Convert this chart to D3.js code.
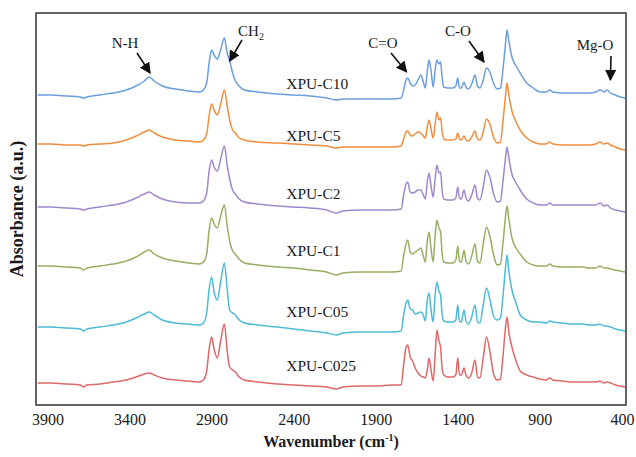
<!DOCTYPE html>
<html>
<head>
<meta charset="utf-8">
<script src="https://cdn.jsdelivr.net/npm/d3@7/dist/d3.min.js"></script>
<style>
  html, body { margin: 0; padding: 0; background: #fff; }
  svg { display: block; }
  text { font-family: "Liberation Serif", "Times New Roman", serif; fill: #1a1a1a; }
</style>
</head>
<body>
<svg id="chart" width="636" height="457"></svg>
<script>
// Wavenumber grid (cm-1) shared by all spectra
const wavenumbers = [3960, 3880, 3780, 3700, 3680, 3660, 3580, 3500, 3420, 3360, 3310, 3280, 3250, 3200, 3120, 3040,
  2975, 2950, 2930, 2915, 2900, 2885, 2865, 2845, 2822, 2805, 2790, 2772, 2755, 2738, 2700, 2620, 2500, 2400, 2300,
  2200, 2140, 2100, 2000, 1900, 1800, 1745, 1730, 1715, 1705, 1690, 1675, 1660, 1642, 1625, 1610, 1598, 1585, 1575,
  1562, 1550, 1538, 1527, 1515, 1505, 1495, 1485, 1460, 1430, 1412, 1400, 1390, 1378, 1362, 1350, 1335, 1315, 1295,
  1280, 1265, 1245, 1225, 1205, 1180, 1160, 1140, 1125, 1110, 1100, 1088, 1070, 1045, 1020, 980, 940, 900, 860, 840,
  820, 760, 700, 640, 600, 560, 533, 510, 490, 470, 440, 410, 380];

// Absorbance of each sample (arbitrary units, x100), same order as wavenumbers
const absC10 = [0, 0, -1, -2, -3, -2, 0, 2, 5, 9, 14, 18, 14, 9, 6, 4,
  3, 5, 12, 32, 45, 40, 36, 45, 57, 42, 34, 22, 14, 10, 5, 3, 1, 0, -1,
  -3, -5, -4, -4, -4, -4, -3, 5, 15, 17, 12, 9, 10, 15, 20, 13, 7, 25, 35,
  23, 8, 25, 35, 31, 33, 17, 8, 7, 7, 9, 17, 7, 7, 13, 8, 6, 11, 20,
  9, 7, 15, 27, 23, 11, 6, 7, 25, 50, 65, 53, 38, 29, 22, 12, 7, 3, 3, 5,
  3, 2, 2, 2, 2, 3, 5, 3, 5, 2, 0, -2, -3];

const absC5 = [0, 0, -1, -1, -2, -1, 0, 1, 4, 8, 12, 14, 11, 7, 4, 3,
  2, 4, 10, 28, 40, 34, 29, 40, 54, 38, 24, 14, 11, 7, 4, 2, 1, 0, -1,
  -2, -4, -3, -3, -3, -3, -2, 5, 12, 13, 9, 8, 10, 12, 11, 8, 6, 18, 24,
  14, 6, 20, 32, 24, 26, 12, 5, 4, 4, 5, 11, 5, 4, 8, 4, 3, 7, 13,
  5, 4, 12, 25, 20, 6, 1, 2, 22, 47, 61, 48, 33, 22, 14, 6, 2, 0, 0, 2,
  0, -1, -1, -1, -1, 0, 2, 0, 1, -1, -3, -5, -6];

const absC2 = [0, 0, -1, -2, -3, -2, 0, 2, 5, 9, 13, 15, 12, 8, 5, 4,
  4, 6, 14, 36, 47, 40, 36, 48, 61, 42, 28, 17, 13, 9, 5, 3, 1, 0, -1,
  -3, -6, -4, -3, -3, -3, -2, 12, 23, 25, 15, 14, 15, 17, 17, 12, 8, 26, 34,
  20, 10, 28, 42, 34, 35, 16, 8, 7, 7, 9, 20, 9, 8, 17, 9, 6, 12, 22,
  9, 7, 20, 37, 30, 12, 5, 6, 25, 48, 60, 48, 33, 24, 17, 8, 4, 2, 2, 4,
  2, 2, 2, 2, 2, 2, 4, 1, 2, -1, -3, -4, -5];

const absC1 = [0, 0, -1, -2, -4, -2, 0, 2, 5, 9, 14, 16, 12, 8, 5, 3,
  2, 4, 12, 36, 48, 42, 38, 50, 61, 40, 25, 15, 12, 8, 3, 1, -1, -2, -4,
  -6, -9, -7, -6, -6, -6, -5, 10, 22, 26, 14, 12, 14, 16, 18, 10, 4, 26, 34,
  16, 4, 30, 46, 38, 34, 12, 4, 3, 3, 6, 20, 5, 4, 16, 5, 2, 10, 22,
  5, 3, 22, 39, 30, 10, 1, 2, 22, 48, 60, 46, 28, 18, 12, 4, 1, 0, 0, 2,
  0, -1, -1, -1, -2, -2, 0, -2, -2, -3, -4, -5, -6];

const absC05 = [0, 0, -1, -2, -4, -2, 0, 2, 5, 9, 13, 15, 12, 7, 4, 3,
  2, 4, 14, 38, 50, 35, 27, 45, 64, 38, 17, 14, 12, 8, 4, 2, 0, -2, -4,
  -6, -8, -6, -5, -5, -5, -4, 12, 24, 27, 18, 17, 13, 14, 15, 12, 6, 28, 34,
  16, 5, 32, 45, 36, 32, 12, 6, 5, 5, 7, 22, 6, 5, 17, 6, 3, 10, 22,
  5, 4, 22, 39, 28, 10, 7, 9, 30, 58, 72, 55, 37, 24, 12, 7, 5, 5, 4, 6,
  5, 4, 3, 3, 2, 2, 3, 1, 1, 0, -2, -3, -4];

const absC025 = [0, 0, -1, -2, -4, -2, -1, 1, 3, 6, 9, 10, 8, 5, 3, 2,
  1, 3, 12, 34, 46, 34, 25, 42, 59, 32, 16, 13, 11, 7, 3, 1, -1, -2, -3,
  -4, -6, -4, -3, -3, -2, -2, 18, 36, 38, 26, 22, 15, 10, 7, 6, 5, 14, 25,
  12, 2, 28, 53, 42, 36, 14, 8, 6, 6, 8, 25, 8, 8, 15, 8, 5, 10, 23,
  6, 5, 25, 46, 32, 8, 3, 4, 26, 54, 66, 50, 36, 22, 12, 8, 6, 4, 3, 5,
  3, 2, 1, 1, 1, 1, 2, 0, 1, 0, -2, -3, -4];

// Sample names, vertical stacking offsets (same units) and line colours
const sampleNames = ["XPU-C10", "XPU-C5", "XPU-C2", "XPU-C1", "XPU-C05", "XPU-C025"];
const stackOffsets = [310, 261, 198, 139, 78, 22];
const lineColors = ["#6b9ede", "#f08d3e", "#9f88cc", "#96af62", "#4dbad6", "#df6868"];
const spectra = [absC10, absC5, absC2, absC1, absC05, absC025];

// X axis ticks
const tickValues = [3900, 3400, 2900, 2400, 1900, 1400, 900, 400];

// Band assignments: label, wavenumber of the band the arrow points to
const bandNames = ["N-H", "CH", "C=O", "C-O", "Mg-O"];
const bandWavenumbers = [3275, 2790, 1712, 1240, 470];

const plot = { left: 36, right: 626, top: 13, bottom: 405 };

const svg = d3.select("#chart");

const x = d3.scaleLinear().domain([3970, 375]).range([plot.left, plot.right]);
const y = d3.scaleLinear().domain([0, 392]).range([plot.bottom, plot.top]);

// Spectra
const line = d3.line()
  .x(d => x(d[0]))
  .y(d => y(d[1]))
  .curve(d3.curveMonotoneX);

spectra.forEach((vals, i) => {
  const pts = wavenumbers.map((w, k) => [w, vals[k] + stackOffsets[i]]);
  svg.append("path")
    .attr("d", line(pts))
    .attr("fill", "none")
    .attr("stroke", lineColors[i])
    .attr("stroke-width", 1.5)
    .attr("stroke-linejoin", "round");
});

// Plot frame
svg.append("rect")
  .attr("x", plot.left).attr("y", plot.top)
  .attr("width", plot.right - plot.left).attr("height", plot.bottom - plot.top)
  .attr("fill", "none").attr("stroke", "#333").attr("stroke-width", 1.5);

// X axis
const xAxis = d3.axisBottom(x).tickValues(tickValues).tickSize(0).tickPadding(9).tickFormat(d3.format("d"));
const gx = svg.append("g").attr("transform", `translate(0,${plot.bottom})`).call(xAxis);
gx.select(".domain").remove();
gx.selectAll("text").style("font-size", "16px").style("font-family", "'Liberation Serif', serif").attr("fill", "#1a1a1a");

// Axis titles
const xt = svg.append("text")
  .attr("x", (plot.left + plot.right) / 2).attr("y", 447)
  .attr("text-anchor", "middle")
  .style("font-size", "16px").style("font-weight", "bold");
xt.append("tspan").text("Wavenumber (cm");
xt.append("tspan").text("-1").attr("dy", -6).style("font-size", "10px");
xt.append("tspan").text(")").attr("dy", 6);

svg.append("text")
  .attr("transform", `translate(23,${(plot.top + plot.bottom) / 2}) rotate(-90)`)
  .attr("text-anchor", "middle")
  .style("font-size", "18px").style("font-weight", "bold")
  .text("Absorbance (a.u.)");

// Sample labels, placed above each spectrum's baseline
const labelWavenumber = 2445;
const labelLift = [6, 3, 8, 10, 10, 12];
sampleNames.forEach((name, i) => {
  svg.append("text")
    .attr("x", x(labelWavenumber))
    .attr("y", y(stackOffsets[i] + labelLift[i]))
    .style("font-size", "15.5px")
    .text(name);
});

// Arrow heads
svg.append("defs").append("marker")
  .attr("id", "head").attr("viewBox", "0 0 10 10")
  .attr("refX", 9).attr("refY", 5)
  .attr("markerWidth", 7).attr("markerHeight", 7)
  .attr("orient", "auto-start-reverse")
  .append("path").attr("d", "M0,0 L10,5 L0,10 Z").attr("fill", "#111");

// Band annotations: text position and arrow start/end
const notes = [
  { tx: 125, ty: 48, x1: 137, y1: 53, tipY: 73 },
  { tx: 251, ty: 36, x1: 242, y1: 40, tipY: 61 },
  { tx: 383, ty: 48, x1: 391, y1: 53, tipY: 72 },
  { tx: 458, ty: 36, x1: 469, y1: 41, tipY: 62 },
  { tx: 595, ty: 50, x1: 611, y1: 56, tipY: 80 }
];
notes.forEach((n, i) => {
  const t = svg.append("text")
    .attr("x", n.tx).attr("y", n.ty)
    .attr("text-anchor", "middle")
    .style("font-size", "15px")
    .text(bandNames[i]);
  if (bandNames[i] === "CH") {
    t.append("tspan").text("2").attr("dy", 4).style("font-size", "10px");
  }
  svg.append("line")
    .attr("x1", n.x1).attr("y1", n.y1)
    .attr("x2", x(bandWavenumbers[i])).attr("y2", n.tipY)
    .attr("stroke", "#111").attr("stroke-width", 1.6)
    .attr("marker-end", "url(#head)");
});
</script>
</body>
</html>
